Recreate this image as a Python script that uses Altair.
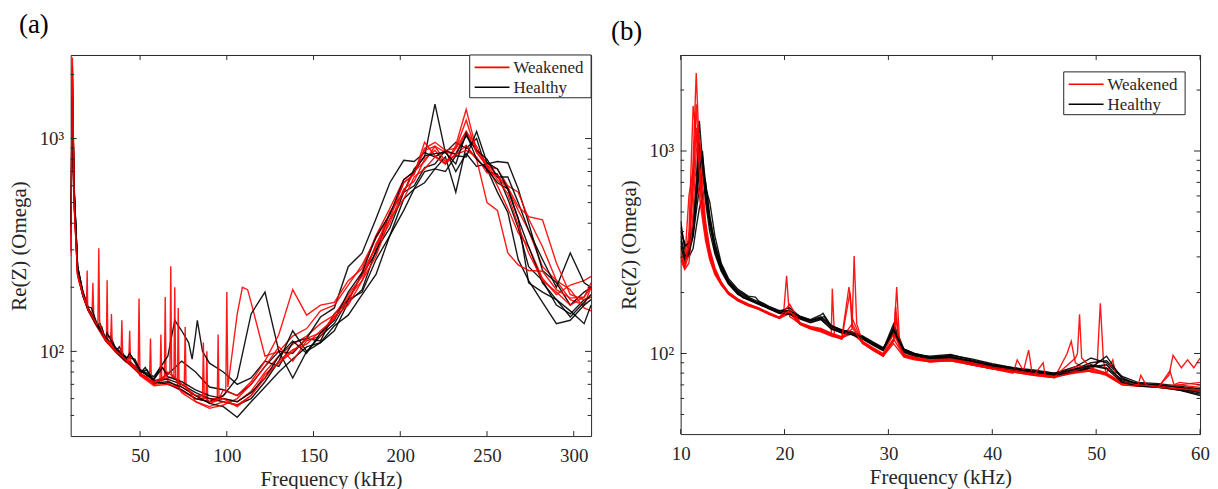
import altair as alt
import pandas as pd

FONT = "Liberation Serif"
AX = "#262626"
RED = "#ff0000"
BLACK = "#000000"

# ---------------- panel (a) data ----------------
fa = [10, 11, 12, 14, 17, 20, 25, 30, 36, 42,
      50, 58, 66, 74, 82, 90, 98, 106, 114, 122,
      130, 138, 146, 154, 162, 170, 178, 186, 194,
      202, 208, 214, 220, 226, 232, 238, 244, 250, 256,
      262, 268, 274, 282, 290, 298, 306, 310]

a_H1 = [420, 1500, 560, 250, 190, 160, 135, 116, 103, 93,
        81, 74, 78, 90, 80, 68, 66, 62, 70, 85,
        100, 98, 115, 112, 150, 175, 230, 290, 450,
        560, 720, 820, 1450, 860, 960, 900, 1000, 700, 680,
        520, 380, 250, 215, 165, 150, 175, 180]
a_H2 = [380, 1700, 600, 245, 188, 158, 132, 114, 101, 92,
        82, 76, 95, 125, 120, 88, 80, 70, 75, 90,
        85, 110, 115, 145, 160, 250, 290, 420, 620,
        790, 780, 860, 820, 880, 700, 850, 740, 760, 780,
        770, 580, 400, 240, 210, 165, 190, 200]
a_H3 = [360, 1400, 540, 240, 185, 160, 134, 114, 100, 91,
        80, 72, 70, 66, 60, 58, 62, 75, 150, 190,
        100, 75, 100, 118, 135, 175, 190, 270, 350,
        520, 580, 700, 720, 820, 560, 920, 800, 720, 560,
        450, 270, 215, 170, 135, 140, 165, 175]
a_H4 = [400, 1600, 580, 250, 192, 162, 136, 117, 104, 94,
        82, 73, 74, 70, 64, 60, 58, 56, 60, 72,
        90, 125, 100, 110, 125, 170, 195, 300, 380,
        560, 600, 730, 760, 880, 840, 1030, 880, 800, 660,
        660, 500, 370, 270, 200, 290, 210, 200]
a_H5 = [350, 1300, 520, 235, 182, 156, 132, 113, 100, 90,
        79, 71, 72, 68, 62, 57, 55, 49, 58, 68,
        80, 92, 105, 110, 132, 148, 185, 230, 350,
        460, 580, 620, 720, 700, 830, 820, 1080, 770, 720,
        580, 420, 210, 190, 175, 155, 135, 165]
a_H6 = [390, 1550, 570, 248, 189, 159, 133, 115, 102, 92,
        81, 74, 76, 72, 66, 62, 60, 58, 64, 75,
        95, 112, 98, 122, 140, 190, 235, 345, 440,
        640, 700, 830, 850, 860, 760, 1060, 800, 720, 620,
        580, 420, 310, 210, 175, 145, 170, 185]
a_W1 = [300, 2400, 500, 230, 185, 158, 133, 114, 100, 90,
        78, 70, 73, 66, 60, 57, 60, 58, 65, 80,
        95, 108, 118, 135, 148, 185, 225, 310, 400,
        580, 630, 800, 880, 760, 930, 1370, 880, 770, 660,
        580, 460, 370, 250, 215, 175, 165, 200]
a_W2 = [280, 2000, 480, 225, 183, 156, 131, 112, 99, 89,
        77, 70, 71, 65, 60, 58, 62, 150, 170, 95,
        100, 118, 128, 155, 165, 205, 255, 340, 440,
        620, 680, 960, 830, 760, 900, 1080, 920, 740, 720,
        600, 560, 420, 310, 215, 195, 160, 155]
a_W3 = [310, 2100, 510, 232, 186, 158, 134, 114, 100, 90,
        78, 71, 75, 68, 62, 60, 66, 62, 72, 90,
        120, 195, 148, 165, 170, 215, 245, 350, 470,
        640, 700, 880, 920, 860, 850, 1080, 860, 740, 600,
        470, 360, 310, 220, 185, 205, 215, 225]
a_W4 = [290, 1800, 490, 228, 184, 157, 132, 113, 99, 89,
        77, 69, 70, 64, 58, 55, 58, 56, 62, 78,
        88, 100, 115, 122, 145, 165, 215, 280, 420,
        520, 660, 720, 820, 760, 840, 880, 820, 690, 670,
        590, 480, 430, 415, 260, 185, 175, 180]
a_W5 = [320, 1900, 505, 230, 185, 157, 133, 113, 100, 91,
        79, 71, 80, 70, 58, 54, 56, 60, 70, 85,
        105, 90, 112, 118, 150, 170, 235, 310, 450,
        560, 700, 780, 920, 780, 840, 930, 800, 500, 460,
        290, 255, 240, 238, 195, 178, 180, 210]
a_W6 = [300, 2200, 500, 230, 186, 158, 134, 114, 101, 91,
        79, 72, 78, 70, 62, 58, 60, 55, 62, 75,
        90, 102, 108, 125, 142, 180, 215, 320, 420,
        620, 680, 900, 960, 880, 900, 1220, 860, 750, 640,
        550, 390, 290, 215, 190, 165, 180, 200]

# extra (frequency, value) points: narrow resonance spikes and small bumps
ext_a = {
    "H1": [(33, 118), (45, 95), (62, 85)],
    "H2": [(70, 140), (78, 110), (80, 92), (83, 140), (86, 100)],
    "H3": [(27, 135), (38, 105), (54, 82)],
    "H4": [(22, 160), (47, 92)],
    "H5": [(28, 130), (53, 84)],
    "H6": [(31, 122), (44, 98), (63, 84)],
    "W1": [(22.3, 150), (22.8, 210), (23.3, 145), (64, 75), (64.5, 180), (65, 75),
           (88, 60), (88.5, 100), (89, 58)],
    "W2": [(48.9, 84), (49.4, 177), (49.9, 83), (55.5, 76), (56, 115), (56.5, 74),
           (99.4, 64), (100, 190), (100.6, 68), (109, 200), (112, 195)],
    "W3": [(30.6, 113), (31, 216), (31.4, 112), (69.5, 76), (70, 200), (70.5, 74),
           (94.5, 60), (95, 120), (95.5, 60)],
    "W4": [(33, 110), (33.5, 150), (34, 106), (43.5, 91), (44, 125), (44.5, 90),
           (71.5, 68), (72, 160), (72.5, 67)],
    "W5": [(39, 96), (39.5, 140), (40, 95), (61.5, 73), (62, 120), (62.5, 73),
           (75.5, 70), (76, 130), (76.5, 69)],
    "W6": [(19.1, 165), (19.5, 240), (19.8, 162), (25.7, 137), (26.2, 305), (26.7, 134),
           (67.2, 80), (67.7, 251), (68.2, 78), (86, 62), (86.5, 110), (87, 61)],
}

# ---------------- panel (b) data ----------------
fb = [10, 10.4, 10.8, 11.2, 11.5, 11.8, 12.1, 12.4, 12.8, 13.3,
      13.9, 14.6, 15.5, 16.5, 17.5, 18.5, 19.5, 20.5, 21.5, 22.5,
      23.5, 24.5, 25.5, 26.5, 27.5, 28.5, 29.5, 30.5, 31.5, 32.5,
      34, 36, 38, 40, 42, 44, 46, 48, 49.5, 51,
      52.5, 54, 56, 58, 60]

b_H1 = [450, 330, 360, 420, 700, 1410, 900, 600, 430, 330,
        265, 225, 200, 185, 178, 168, 160, 158, 150, 145,
        150, 135, 128, 125, 120, 112, 105, 140, 105, 100,
        96, 97, 92, 87, 84, 82, 79, 83, 88, 85,
        74, 71, 70, 68, 65]
b_H2 = [400, 350, 330, 380, 500, 650, 780, 700, 480, 340,
        270, 230, 205, 190, 180, 170, 162, 168, 152, 146,
        152, 138, 130, 128, 121, 113, 106, 130, 104, 99,
        97, 99, 93, 88, 85, 83, 80, 84, 90, 92,
        77, 72, 71, 69, 67]
b_H3 = [380, 310, 300, 330, 420, 520, 600, 660, 560, 380,
        280, 235, 208, 192, 182, 171, 163, 162, 153, 147,
        155, 137, 131, 127, 122, 114, 107, 125, 105, 100,
        96, 98, 94, 89, 85, 82, 80, 86, 95, 90,
        76, 70, 69, 66, 63]
b_H4 = [360, 300, 320, 400, 600, 900, 1000, 620, 450, 320,
        260, 222, 198, 186, 176, 167, 158, 157, 149, 143,
        148, 132, 127, 124, 118, 111, 104, 135, 102, 98,
        95, 96, 91, 87, 83, 81, 78, 82, 86, 88,
        73, 70, 68, 67, 64]
b_H5 = [420, 340, 350, 420, 650, 1100, 820, 560, 400, 310,
        255, 220, 196, 184, 175, 166, 158, 156, 148, 142,
        147, 133, 126, 124, 118, 110, 103, 128, 101, 97,
        94, 95, 90, 86, 83, 80, 78, 81, 85, 97,
        75, 71, 70, 68, 66]
b_H6 = [340, 290, 310, 380, 550, 800, 950, 700, 470, 350,
        275, 228, 202, 188, 177, 167, 160, 163, 151, 145,
        150, 136, 129, 126, 120, 112, 105, 132, 103, 99,
        95, 96, 92, 87, 84, 81, 79, 84, 87, 84,
        72, 69, 68, 66, 62]
b_W1 = [320, 280, 330, 900, 2430, 1000, 600, 420, 320, 260,
        225, 200, 185, 175, 168, 158, 150, 152, 140, 134,
        132, 125, 120, 125, 114, 106, 99, 118, 98, 95,
        92, 94, 89, 85, 82, 79, 77, 80, 82, 78,
        70, 69, 68, 66, 65]
b_W2 = [300, 270, 400, 1670, 1200, 700, 500, 380, 300, 250,
        220, 198, 184, 174, 166, 157, 150, 160, 140, 133,
        130, 124, 118, 140, 113, 105, 98, 115, 97, 94,
        91, 93, 88, 84, 81, 78, 76, 90, 81, 79,
        71, 70, 69, 70, 68]
b_W3 = [330, 290, 600, 800, 750, 600, 460, 360, 290, 245,
        218, 196, 182, 172, 165, 156, 149, 158, 139, 132,
        128, 122, 118, 150, 113, 104, 97, 112, 96, 93,
        91, 92, 88, 84, 80, 78, 76, 86, 84, 80,
        72, 70, 68, 70, 72]
b_W4 = [310, 265, 310, 650, 1300, 900, 550, 400, 310, 255,
        222, 199, 183, 173, 166, 157, 150, 165, 141, 134,
        131, 124, 119, 128, 114, 105, 98, 116, 98, 95,
        92, 93, 89, 85, 82, 79, 77, 82, 83, 79,
        71, 70, 69, 88, 95]
b_W5 = [290, 260, 280, 500, 1000, 1200, 700, 450, 330, 265,
        226, 201, 186, 176, 168, 159, 151, 175, 142, 136,
        133, 126, 121, 132, 115, 107, 100, 125, 99, 96,
        93, 94, 90, 86, 83, 80, 77, 95, 85, 80,
        72, 70, 68, 72, 70]
b_W6 = [300, 275, 350, 750, 1700, 800, 520, 400, 305, 250,
        220, 197, 183, 173, 166, 157, 150, 163, 139, 133,
        129, 123, 118, 135, 112, 104, 97, 118, 97, 94,
        91, 92, 88, 84, 81, 78, 76, 81, 82, 78,
        70, 69, 68, 67, 66]

ext_b = {
    "H1": [(16.0, 188), (23.8, 152)],
    "H3": [(17.2, 190), (23.7, 158)],
    "W1": [(19.9, 155), (20.2, 242), (20.45, 158), (30.8, 213), (31.05, 120),
           (50.1, 90), (50.4, 177), (50.7, 92)],
    "W2": [(24.6, 209), (24.8, 124), (30.7, 170), (31.0, 115),
           (47.2, 100), (47.6, 115), (47.9, 95)],
    "W3": [(26.0, 180), (26.2, 213), (26.35, 190), (42.4, 93), (43, 82),
           (43.5, 104), (43.8, 82), (51.6, 93), (51.9, 78)],
    "W4": [(30.75, 150), (31.0, 110), (57.0, 78), (57.4, 98), (58.2, 85),
           (58.8, 93), (59.4, 85)],
    "W5": [(26.7, 303), (26.95, 140), (48.2, 100), (48.4, 156), (48.6, 95),
           (57.1, 82), (57.5, 70)],
    "W6": [(26.3, 200), (44.9, 90), (45.1, 77), (54.3, 78), (54.8, 70)],
}

groups = ["Weakened", "Healthy"]
series_a = [("H1", "Healthy", a_H1), ("W1", "Weakened", a_W1), ("H2", "Healthy", a_H2),
            ("W2", "Weakened", a_W2), ("H3", "Healthy", a_H3), ("W3", "Weakened", a_W3),
            ("H4", "Healthy", a_H4), ("W4", "Weakened", a_W4), ("H5", "Healthy", a_H5),
            ("W5", "Weakened", a_W5), ("H6", "Healthy", a_H6), ("W6", "Weakened", a_W6)]
series_b = [("H1", "Healthy", b_H1), ("W1", "Weakened", b_W1), ("H2", "Healthy", b_H2),
            ("W2", "Weakened", b_W2), ("H3", "Healthy", b_H3), ("W3", "Weakened", b_W3),
            ("H4", "Healthy", b_H4), ("W4", "Weakened", b_W4), ("H5", "Healthy", b_H5),
            ("W5", "Weakened", b_W5), ("H6", "Healthy", b_H6), ("W6", "Weakened", b_W6)]

x_ticks_a = [50, 100, 150, 200, 250, 300]
x_ticks_b = [10, 20, 30, 40, 50, 60]
y_major = [100, 1000]
y_minor = [50, 60, 70, 80, 90, 200, 300, 400, 500, 600, 700, 800, 900, 2000]


def build(grid, series, extras):
    rows = []
    for sid, grp, vals in series:
        assert len(vals) == len(grid), sid
        pts = sorted(list(zip(grid, vals)) + extras.get(sid, []))
        for i, (f, z) in enumerate(pts):
            rows.append({"f": f, "z": z, "s": sid, "g": grp, "o": i})
    return pd.DataFrame(rows)


def panel(df, xdom, xvals, ydom, W, H, title, tdx, toff, box_x, box_y):
    xs = alt.Scale(domain=xdom, nice=False, zero=False)
    ys = alt.Scale(type="log", domain=ydom, nice=False)
    xaxis = alt.Axis(
        values=xvals, title="Frequency (kHz)", grid=False, ticks=False, domain=False,
        labelFont=FONT, titleFont=FONT,
        labelPadding=11, labelFlush=False, labelOverlap=False, titlePadding=3)
    yaxis = alt.Axis(
        values=y_major,
        labelExpr="datum.value == 1000 ? '10\u00b3' : (datum.value == 100 ? '10\u00b2' : '')",
        title="Re(Z) (Omega)", grid=False, ticks=False, domain=False,
        labelFont=FONT, titleFont=FONT,
        labelPadding=7, labelFlush=False, labelOverlap=False,
        titlePadding=3, minExtent=38, maxExtent=38)
    lines = alt.Chart(df).mark_line(strokeWidth=1.4, opacity=0.9, clip=True).encode(
        x=alt.X("f:Q", scale=xs, axis=xaxis),
        y=alt.Y("z:Q", scale=ys, axis=yaxis),
        color=alt.Color("g:N", scale=alt.Scale(domain=groups, range=[RED, BLACK]), legend=None),
        detail="s:N",
        order="o:Q",
    )
    layers = [lines]
    dmaj = pd.DataFrame({"v": y_major})
    dmin = pd.DataFrame({"v": y_minor})
    dxt = pd.DataFrame({"v": xvals})
    for d, ln in [(dmaj, 6), (dmin, 3.5)]:
        base = alt.Chart(d).mark_rule(color=AX, strokeWidth=1)
        layers.append(base.encode(y=alt.Y("v:Q", scale=ys, axis=yaxis), x=alt.value(0), x2=alt.value(ln)))
        layers.append(base.encode(y=alt.Y("v:Q", scale=ys, axis=yaxis), x=alt.value(W), x2=alt.value(W - ln)))
    bx = alt.Chart(dxt).mark_rule(color=AX, strokeWidth=1)
    layers.append(bx.encode(x=alt.X("v:Q", scale=xs, axis=xaxis), y=alt.value(H), y2=alt.value(H - 5)))
    layers.append(bx.encode(x=alt.X("v:Q", scale=xs, axis=xaxis), y=alt.value(0), y2=alt.value(5)))

    # legend box
    one = pd.DataFrame({"k": [0]})
    layers.append(alt.Chart(one).mark_rect(fill="white", stroke=AX, strokeWidth=1).encode(
        x=alt.value(box_x), x2=alt.value(box_x + 122), y=alt.value(box_y), y2=alt.value(box_y + 43)))
    for i, (lab, col) in enumerate(zip(groups, [RED, BLACK])):
        yy = box_y + 12.5 + 20 * i
        layers.append(alt.Chart(one).mark_rule(color=col, strokeWidth=1.6).encode(
            x=alt.value(box_x + 5), x2=alt.value(box_x + 40), y=alt.value(yy)))
        layers.append(alt.Chart(one).mark_text(
            align="left", baseline="middle", font=FONT, fontSize=17, color=AX).encode(
            x=alt.value(box_x + 44), y=alt.value(yy + 1), text=alt.value(lab)))

    return alt.layer(*layers).properties(
        width=W, height=H,
        title=alt.TitleParams(text=title, anchor="start", frame="group", dx=tdx, offset=toff,
                              font=FONT, fontSize=27, fontWeight="normal", color="black"))


df_a = build(fa, series_a, ext_a)
df_b = build(fb, series_b, ext_b)

pa = panel(df_a, [10, 310], x_ticks_a, [40, 2470], 523, 383, "(a)", -52, 16, 523 - 122, 0)
pb = panel(df_b, [10, 60], x_ticks_b, [40, 2980], 522, 381, "(b)", -70, 9, 385, 17)

chart = alt.hconcat(pa, pb, spacing=90, bounds="flush").configure(
    font=FONT
).configure_view(
    stroke=AX, strokeWidth=1
).configure_axis(
    labelFont=FONT, labelFontSize=19, labelColor=AX,
    titleFont=FONT, titleFontSize=21, titleFontWeight="normal", titleColor=AX
).configure_text(font=FONT).properties(
    padding={"left": 0, "top": 1, "right": 0, "bottom": 0})

chart.save("out.html", embed_options={"renderer": "svg", "actions": False})
